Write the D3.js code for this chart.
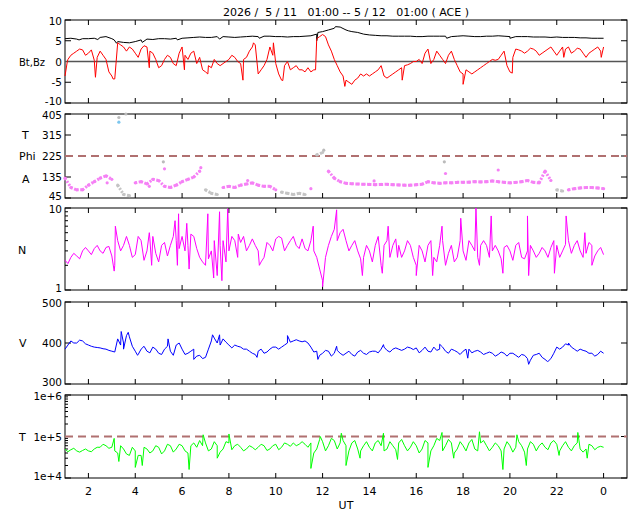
<!DOCTYPE html>
<html><head><meta charset="utf-8">
<script src="https://cdn.jsdelivr.net/npm/d3@7"></script>
<style>body{margin:0;background:#fff}text{font-family:"DejaVu Sans",sans-serif;white-space:pre}</style>
</head><body><svg id="c" width="640" height="512"></svg>
<script>
const title = "2026 /  5 / 11   01:00 -- 5 / 12   01:00 ( ACE )";
const xTicks = [2,4,6,8,10,12,14,16,18,20,22,24];
const hours = d3.range(93).map(i => 1 + i*0.25);
const mids = d3.range(92).map(i => 1.125 + i*0.25);
const bz = [-3.5,1.5,2.5,2.8,2.0,0.3,2.5,0.5,-3.5,4.5,3.5,3.5,2.0,3.0,3.5,2.0,-1.5,0.5,1.0,-1.0,3.5,0.5,2.5,1.0,-2.5,-1.5,-0.5,-0.5,0.5,1.0,-0.5,1.0,3.5,-3.0,-1.0,3.5,-0.5,-4.5,0,-1.5,-2.0,-2.5,-2.5,5.5,6.5,4.0,0.5,-2.5,-4.5,-5.5,-4.0,-3.5,-3.5,-2.5,-1.0,-4.0,-3.0,-2.0,-1.0,-0.5,0.0,-0.5,3.0,0.5,1.5,-0.5,2.5,-1.0,-3.0,-2.5,-2.5,-1.5,-0.5,0.5,0.5,2.5,-2.5,3.0,2.5,2.5,3.0,1.5,2.5,3.5,1.5,3.5,3.5,2.5,3.0,1.0,2.5,3.5,3.5];
const bzMid = [0.5,2.0,3.0,1.5,2.8,1.0,1.5,-2.5,-4.2,4.0,2.5,3.0,1.0,3.8,2.5,0.5,-1.0,1.5,-0.5,2.0,1.5,2.0,-0.5,-2.0,-1.0,0.5,-1.0,0.0,1.5,0.0,0.5,2.5,4.0,-2.0,0.5,1.5,-3.0,-1.0,-2.0,-1.0,-2.0,-1.5,-2.0,6.0,6.0,2.5,-1.0,-3.5,-5.0,-4.5,-3.0,-3.0,-3.0,-2.0,-3.5,-3.5,-2.5,-1.5,-0.8,0.0,0.5,2.0,-0.5,2.5,0.5,1.5,0.5,-2.5,-2.0,-3.0,-2.0,-1.0,0.0,0.3,1.5,-1.0,1.0,2.8,2.0,3.2,2.5,2.0,3.0,2.5,2.5,3.0,2.0,3.2,2.0,2.0,3.0,2.5];
const bzSpikes = [[1.1,0],[2.3,-3.8],[3.05,-4.2],[4.6,-1.5],[6.1,-2],[7.1,-3],[8.6,-4.5],[9.05,4.5],[9.9,4.5],[10.3,-4.6],[11.7,-2],[12.95,-6],[15.4,-4.5],[18.0,-5.5],[20.1,-2.8],[22.3,1],[23.9,1]];
const bt = [5.5,5.6,5.4,5.5,5.5,5.6,5.8,6.0,5.5,4.8,4.6,4.5,4.8,5.2,5.4,5.3,5.5,5.5,5.4,5.6,5.6,5.7,5.8,5.9,5.8,5.8,6.0,6.0,5.9,5.8,5.9,6.0,6.1,6.0,6.1,6.1,6.0,6.0,5.9,6.0,6.0,6.1,6.2,6.6,7.2,7.6,8.0,8.3,7.6,7.2,7.0,6.6,6.4,6.3,6.2,6.2,6.1,6.1,6.1,6.1,6.0,6.0,6.1,6.1,6.1,6.1,6.0,6.1,6.2,6.1,6.0,6.0,6.1,6.1,6.2,6.1,6.0,6.0,6.0,6.0,5.9,5.9,5.9,5.8,5.9,5.8,5.8,5.8,5.7,5.7,5.6,5.6,5.6];
const btSpikes = [[1.6,5.2],[2.4,5.3],[3.1,5.2],[3.2,4.4],[4.3,4.6],[5.8,5.2],[7.6,5.4],[9.3,5.6],[11.75,5.0],[11.8,7.0],[12.55,8.4],[13.1,7.4],[17.3,5.6],[20.0,5.6]];
const phi = [130,90,80,80,100,115,130,140,125,100,60,55,110,115,105,125,120,95,90,100,115,125,135,160,80,65,60,90,95,90,100,105,110,100,95,95,80,70,65,60,65,60,85,230,240,160,130,115,108,106,105,104,103,102,103,104,102,101,100,100,102,104,115,110,108,110,110,112,112,113,115,114,115,118,115,112,110,112,115,120,112,110,160,120,80,75,80,85,88,90,90,88,85];
const phiGrey = [0,0,0,0,0,0,0,0,0,1,1,1,0,0,0,0,0,0,0,0,0,0,0,0,1,1,1,0,0,0,0,0,0,0,0,0,0,1,1,1,1,1,0,1,1,0,0,0,0,0,0,0,0,0,0,0,0,0,0,0,0,0,0,0,0,0,0,0,0,0,0,0,0,0,0,0,0,0,0,0,0,0,0,0,1,1,0,0,0,0,0,0,0];
const phiOut = [[3.3,390,"#bbb"],[3.3,370,"#7cc6ee"],[3.6,405,"#bbb"],[5.2,200,"#bbb"],[5.25,170,"#f580f5"],[6.8,175,"#f580f5"],[12.05,250,"#bbb"],[17.2,200,"#bbb"],[17.25,150,"#f580f5"],[19.5,165,"#f580f5"],[2.8,110,"#f580f5"],[4.6,95,"#f580f5"],[8.8,120,"#f580f5"],[14.2,118,"#f580f5"]];
const dens = [2.3,2.5,2.6,3.0,3.0,3.2,3.0,3.3,2.6,4.0,3.5,3.5,2.7,4.0,3.0,4.5,2.2,3.8,3.5,4.0,4.5,3.5,4.5,2.5,2.0,3.0,1.5,4.0,3.0,4.0,3.8,3.0,4.2,3.0,2.5,3.5,4.2,4.3,3.5,4.5,3.2,3.2,4.0,2.5,1.3,3.5,5.5,5.0,4.0,3.5,3.0,2.5,3.0,3.5,2.0,4.0,3.5,3.5,3.0,3.5,2.0,3.0,3.5,2.5,3.5,2.0,3.5,2.5,3.0,4.0,3.0,3.5,3.5,3.0,3.0,3.3,3.0,3.5,2.5,3.0,3.0,2.8,3.0,3.3,3.5,3.0,4.0,3.5,3.0,2.8,3.5,3.0,2.7];
const densMid = [2.1,2.8,2.4,3.3,2.7,3.5,2.8,3.4,2.0,3.0,4.5,2.5,4.5,2.3,4.2,2.8,3.5,2.6,4.5,3.2,3.0,4.8,3.2,2.2,2.4,4.0,3.5,2.2,4.5,2.5,4.5,3.5,3.5,2.2,3.8,3.0,4.5,3.0,4.0,3.5,4.2,3.0,3.0,1.8,2.5,4.5,4.0,5.5,3.0,4.0,2.4,3.5,2.2,4.5,3.5,2.5,4.2,2.5,4.0,2.5,3.5,2.2,4.0,2.2,4.0,2.8,2.2,4.0,2.3,3.5,2.5,4.0,2.5,3.5,2.4,3.5,2.3,3.8,2.4,3.5,2.5,3.3,2.5,4.0,2.5,3.6,2.8,4.0,2.5,3.8,2.6,3.3];
const densSpikes = [[3.1,1.7],[3.15,6],[4.6,5],[4.7,2],[5.7,7],[5.8,2],[5.85,8.5],[6.2,6.5],[6.3,1.8],[7.1,8.5],[7.35,1.4],[7.6,9],[7.7,1.3],[7.95,9.8],[8.4,4.8],[9.3,2],[11.6,6],[12.0,1.1],[12.6,9.5],[13.7,1.5],[14.55,1.6],[14.8,6],[15.2,2.5],[16.0,1.5],[16.7,1.5],[17.1,6],[17.9,7.5],[18.55,10],[18.7,2],[19.2,8],[19.7,1.6],[20.75,8],[20.8,1.5],[21.9,1.6],[22.4,8],[23.2,5],[23.5,2]];
const vel = [385,405,400,405,395,390,388,385,380,410,400,415,380,385,380,390,375,385,380,395,385,375,385,370,365,405,400,410,395,395,390,385,375,380,375,385,390,390,400,405,405,405,390,380,375,380,375,375,375,372,378,375,378,380,385,382,385,385,385,388,388,382,380,390,385,380,385,378,380,385,380,378,375,375,372,375,375,370,372,362,370,375,360,362,390,390,395,385,385,380,375,372,375];
const velMid = [395,400,407,398,392,389,386,382,378,395,418,392,372,392,376,385,372,392,370,400,372,380,368,362,385,412,395,402,388,392,385,380,372,385,378,390,385,395,402,408,403,400,378,370,382,368,382,370,380,368,382,372,380,376,390,378,388,382,390,384,376,390,378,382,390,375,382,372,385,376,382,372,378,368,378,368,375,365,370,358,372,365,355,375,385,398,390,380,382,375,368,380];
const velSpikes = [[3.4,428],[3.5,385],[3.7,426],[4.1,370],[5.4,410],[6.5,360],[7.3,420],[7.6,420],[9.2,365],[10.5,418],[11.8,360],[12.6,392],[14.6,396],[17.0,397],[18.2,363],[20.8,348],[21.6,355],[22.5,400]];
const temp = [5e4,4.8e4,4.5e4,4.6e4,4.5e4,5e4,5.5e4,6e4,5.5e4,4e4,5e4,3.5e4,4.5e4,3.5e4,5e4,4.5e4,5.5e4,4.5e4,6e4,5e4,6e4,4e4,7e4,8e4,7e4,5e4,6e4,5e4,7e4,6e4,5.5e4,5e4,5.5e4,5.5e4,6e4,5e4,6.5e4,5.5e4,6.5e4,7e4,6.5e4,6.5e4,7e4,5e4,7.5e4,6e4,8e4,7e4,6e4,7e4,5e4,6e4,5.5e4,7e4,6e4,5e4,6e4,7e4,6e4,5.5e4,6e4,5e4,7e4,6e4,8e4,6e4,7e4,5e4,6e4,7e4,5e4,7e4,6e4,5.5e4,6e4,5e4,6e4,5.5e4,6e4,5e4,6.5e4,6e4,5.5e4,7e4,6.5e4,6e4,5.5e4,6e4,5e4,5e4,6e4,5.5e4,5.5e4];
const tempMid = [4.3e4,5.2e4,4.2e4,5e4,4.3e4,5.5e4,6.5e4,5.2e4,4.5e4,6e4,3.8e4,5.5e4,3.5e4,5.5e4,4e4,6e4,3.8e4,6.5e4,4.2e4,6.5e4,4.5e4,6e4,5.5e4,6e4,4.5e4,7.5e4,4.2e4,7.5e4,4.8e4,6.5e4,4.5e4,6e4,4.8e4,6.5e4,4.6e4,6e4,4.8e4,7e4,5.8e4,6e4,7.5e4,5.5e4,4e4,8.5e4,4.5e4,9e4,5e4,8e4,4.5e4,8e4,4.5e4,7.5e4,4.5e4,8e4,4.5e4,7.5e4,4.8e4,8.5e4,4.5e4,7.5e4,4e4,8e4,4.5e4,9e4,4.5e4,8.5e4,4e4,7.5e4,4.5e4,8.5e4,4.5e4,8e4,4.5e4,7e4,4.5e4,7.5e4,4.2e4,7.5e4,4.2e4,7.5e4,4.5e4,7e4,4.8e4,8e4,4.5e4,7.5e4,4.5e4,7e4,4.2e4,6.5e4,4.8e4,5.8e4];
const tempSpikes = [[3.1,9e4],[3.3,2.5e4],[4.0,1.8e4],[4.3,2e4],[6.3,1.6e4],[6.9,1.1e5],[7.5,3e4],[8.0,1.15e5],[11.5,1.7e4],[11.9,1e5],[12.8,1.2e5],[13.0,2e4],[13.6,3e4],[14.6,1.2e5],[15.2,2.8e4],[16.5,1.8e4],[17.1,1.25e5],[17.6,3e4],[18.7,1.3e5],[19.7,1.6e4],[20.3,1.1e5],[20.7,2e4],[22.1,3.5e4],[22.9,1.25e5],[23.3,3e4]];

const svg = d3.select("#c");
const L = 65, R = 627;
const x = d3.scaleLinear().domain([1,25]).range([L,R]);
function merge(vals, midv, spikes){
  return hours.map((h,i)=>[h,vals[i]]).concat((midv||[]).map((v,i)=>[mids[i],v])).concat(spikes.map(s=>[s[0],s[1]])).sort((a,b)=>a[0]-b[0]);
}
function panel(top, bot, y, ticks, fmt, minor){
  const g = svg.append("g");
  g.append("rect").attr("x",L).attr("y",top).attr("width",R-L).attr("height",bot-top).attr("fill","none").attr("stroke","#000");
  xTicks.forEach(t=>{ g.append("line").attr("x1",x(t)).attr("x2",x(t)).attr("y1",bot).attr("y2",bot-5).attr("stroke","#000");
    g.append("line").attr("x1",x(t)).attr("x2",x(t)).attr("y1",top).attr("y2",top+5).attr("stroke","#000");});
  ticks.forEach((t,k)=>{ g.append("line").attr("x1",L).attr("x2",L+6).attr("y1",y(t)).attr("y2",y(t)).attr("stroke","#000");
    g.append("line").attr("x1",R).attr("x2",R-6).attr("y1",y(t)).attr("y2",y(t)).attr("stroke","#000");
    const dy = k===0 ? 2 : (k===ticks.length-1 ? 5 : 4);
    g.append("text").attr("x",L-3).attr("y",y(t)+dy).attr("text-anchor","end").attr("font-size",10.5).text(fmt(t));});
  (minor||[]).forEach(t=>{ g.append("line").attr("x1",L).attr("x2",L+3).attr("y1",y(t)).attr("y2",y(t)).attr("stroke","#000");});
  return g;
}
svg.append("text").attr("x",346).attr("y",16).attr("text-anchor","middle").attr("font-size",11).text(title);
const ln = (ys)=>d3.line().x(d=>x(d[0])).y(d=>ys(d[1]));

// Panel 1
const y1 = d3.scaleLinear().domain([-10,10]).range([103,20]);
const g1 = panel(20,103,y1,[-10,-5,0,5,10],d=>d);
g1.append("line").attr("x1",L).attr("x2",R).attr("y1",y1(0)).attr("y2",y1(0)).attr("stroke","#555").attr("stroke-width",1.5);
g1.append("path").attr("d",ln(y1)(merge(bt,null,btSpikes))).attr("fill","none").attr("stroke","#000");
g1.append("path").attr("d",ln(y1)(merge(bz,bzMid,bzSpikes))).attr("fill","none").attr("stroke","#f00");
svg.append("text").attr("x",19).attr("y",66).attr("font-size",10).text("Bt,Bz");

// Panel 2
const y2 = d3.scaleLinear().domain([45,405]).range([198,114]);
const g2 = panel(114,198,y2,[45,135,225,315,405],d=>d);
g2.append("line").attr("x1",L).attr("x2",R).attr("y1",y2(225)).attr("y2",y2(225)).attr("stroke","#b07070").attr("stroke-width",2).attr("stroke-dasharray","8,5");
for(let i=0;i<hours.length-1;i++){
  const c = phiGrey[i]&&phiGrey[i+1] ? "#c4c4c4" : (phiGrey[i]||phiGrey[i+1]) ? null : "#f580f5";
  if(!c) continue;
  g2.append("path").attr("d",ln(y2)([[hours[i],phi[i]],[hours[i+1],phi[i+1]]])).attr("stroke",c).attr("stroke-width",3).attr("stroke-dasharray","2,1.5").attr("fill","none");
}
g2.selectAll("circle.p").data(hours).join("circle").attr("cx",d=>x(d)).attr("cy",(d,i)=>y2(phi[i])).attr("r",1.6).attr("fill",(d,i)=>phiGrey[i]?"#c4c4c4":"#f580f5");
g2.selectAll("circle.o").data(phiOut).join("circle").attr("cx",d=>x(d[0])).attr("cy",d=>y2(d[1])).attr("r",1.6).attr("fill",d=>d[2]);
svg.append("text").attr("x",22).attr("y",139).attr("font-size",11).text("T");
svg.append("text").attr("x",19).attr("y",160).attr("font-size",11).text("Phi");
svg.append("text").attr("x",22).attr("y",183).attr("font-size",11).text("A");

// Panel 3
const y3 = d3.scaleLog().domain([1,10]).range([290,208]);
const g3 = panel(208,290,y3,[1,10],d=>d,[2,3,4,5,6,7,8,9]);
g3.append("path").attr("d",ln(y3)(merge(dens,densMid,densSpikes))).attr("fill","none").attr("stroke","#f0f");
svg.append("text").attr("x",18).attr("y",254).attr("font-size",11).text("N");

// Panel 4
const y4 = d3.scaleLinear().domain([300,500]).range([384,302]);
const g4 = panel(302,384,y4,[300,400,500],d=>d);
g4.append("path").attr("d",ln(y4)(merge(vel,velMid,velSpikes))).attr("fill","none").attr("stroke","#00f");
svg.append("text").attr("x",19).attr("y",347).attr("font-size",11).text("V");

// Panel 5
const y5 = d3.scaleLog().domain([1e4,1e6]).range([478,395]);
const g5 = panel(395,478,y5,[1e4,1e5,1e6],d=>"1e+"+Math.round(Math.log10(d)),[2e4,3e4,4e4,5e4,6e4,7e4,8e4,9e4,2e5,3e5,4e5,5e5,6e5,7e5,8e5,9e5]);
g5.append("line").attr("x1",L).attr("x2",R).attr("y1",y5(1e5)).attr("y2",y5(1e5)).attr("stroke","#b07070").attr("stroke-width",2).attr("stroke-dasharray","8,5");
g5.append("path").attr("d",ln(y5)(merge(temp,tempMid,tempSpikes))).attr("fill","none").attr("stroke","#0f0");
svg.append("text").attr("x",19).attr("y",441).attr("font-size",11).text("T");

xTicks.forEach(t=>svg.append("text").attr("x",x(t)).attr("y",495).attr("text-anchor","middle").attr("font-size",11).text(t%24));
svg.append("text").attr("x",346).attr("y",509).attr("text-anchor","middle").attr("font-size",11).text("UT");
</script></body></html>
